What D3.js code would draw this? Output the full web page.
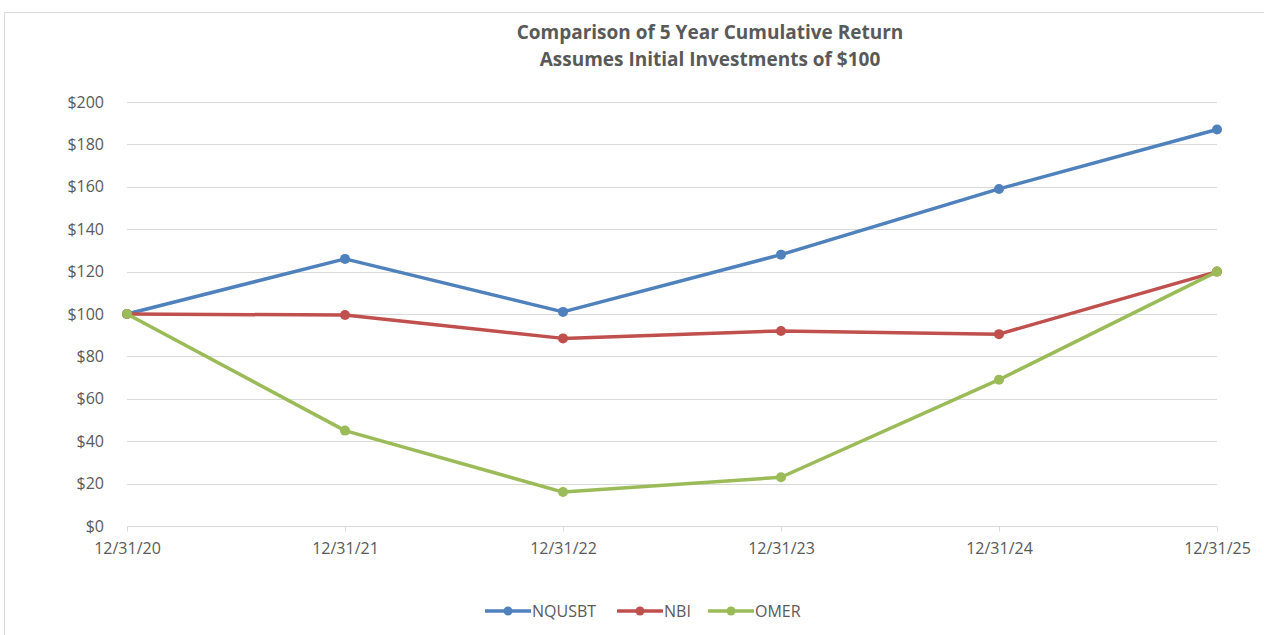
<!DOCTYPE html>
<html>
<head>
<meta charset="utf-8">
<script src="https://cdn.jsdelivr.net/npm/d3@7"></script>
<style>
  body { margin: 0; background: #fff; }
  svg text { font-family: "Open Sans", "Liberation Sans", sans-serif; fill: #595959; }
</style>
</head>
<body>
<div id="chart"></div>
<script>
const dates = ["12/31/20", "12/31/21", "12/31/22", "12/31/23", "12/31/24", "12/31/25"];
const nqusbt = [100, 126, 101, 128, 159, 187];
const nbi = [100, 99.5, 88.5, 92, 90.5, 120];
const omer = [100, 45, 16, 23, 69, 120];
const yTicks = [0, 20, 40, 60, 80, 100, 120, 140, 160, 180, 200];

const series = [
  { name: "NQUSBT", values: nqusbt, color: "#4f81bd" },
  { name: "NBI", values: nbi, color: "#c0504d" },
  { name: "OMER", values: omer, color: "#9bbb59" }
];

const width = 1264, height = 635;
const margin = { top: 102, right: 47, bottom: 109, left: 127 };

const svg = d3.select("#chart").append("svg")
  .attr("width", width).attr("height", height);

// chart frame
svg.append("rect")
  .attr("x", 4.5).attr("y", 12.5)
  .attr("width", width + 10).attr("height", height + 10)
  .attr("fill", "none").attr("stroke", "#d9d9d9");

/* Scales */
const x = d3.scalePoint()
  .domain(dates)
  .range([margin.left, width - margin.right]);

const y = d3.scaleLinear()
  .domain([0, 200])
  .range([height - margin.bottom, margin.top]);

// Gridlines
svg.append("g")
  .selectAll("line")
  .data(yTicks.filter(d => d > 0))
  .enter().append("line")
  .attr("x1", margin.left).attr("x2", width - margin.right)
  .attr("y1", d => Math.round(y(d)) + 0.5).attr("y2", d => Math.round(y(d)) + 0.5)
  .attr("stroke", "#d9d9d9").attr("stroke-width", 1);

// Y-axis labels
const yAxis = svg.append("g")
  .attr("transform", `translate(${margin.left},0)`)
  .call(d3.axisLeft(y).tickValues(yTicks).tickFormat(d => "$" + d).tickSize(0).tickPadding(23));
yAxis.select(".domain").remove();
yAxis.selectAll("text").style("font-size", "16px");

// X-axis
const xAxis = svg.append("g")
  .attr("transform", `translate(0,${Math.round(y(0)) + 0.5})`)
  .call(d3.axisBottom(x).tickSize(5).tickSizeOuter(0).tickPadding(11));
xAxis.select(".domain").attr("stroke", "#d9d9d9").attr("d", `M${margin.left},0H${width - margin.right}`);
xAxis.selectAll(".tick line").attr("stroke", "#d9d9d9");
xAxis.selectAll("text").style("font-size", "16px");

// Lines
const line = d3.line()
  .x((d, i) => x(dates[i]))
  .y(d => y(d));

series.forEach(s => {
  svg.append("path")
    .datum(s.values)
    .attr("fill", "none")
    .attr("stroke", s.color)
    .attr("stroke-width", 3.5)
    .attr("stroke-linejoin", "round")
    .attr("d", line);
  svg.append("g")
    .selectAll("circle")
    .data(s.values)
    .enter().append("circle")
    .attr("cx", (d, i) => x(dates[i]))
    .attr("cy", d => y(d))
    .attr("r", 5)
    .attr("fill", s.color);
});

// Title
const title = svg.append("text")
  .attr("text-anchor", "middle")
  .style("font-size", "19px")
  .style("font-weight", "bold");
title.append("tspan").attr("x", 710).attr("y", 39).text("Comparison of 5 Year Cumulative Return");
title.append("tspan").attr("x", 710).attr("y", 66).text("Assumes Initial Investments of $100");

// Legend
const legendX = [485, 617, 708];
const legend = svg.append("g");
series.forEach((s, i) => {
  const g = legend.append("g").attr("transform", `translate(${legendX[i]},611)`);
  g.append("line").attr("x1", 0).attr("x2", 46).attr("y1", 0).attr("y2", 0)
    .attr("stroke", s.color).attr("stroke-width", 3.5);
  g.append("circle").attr("cx", 23).attr("cy", 0).attr("r", 4.5).attr("fill", s.color);
  g.append("text").attr("x", 47).attr("y", 6).style("font-size", "16px").text(s.name);
});
</script>
</body>
</html>
